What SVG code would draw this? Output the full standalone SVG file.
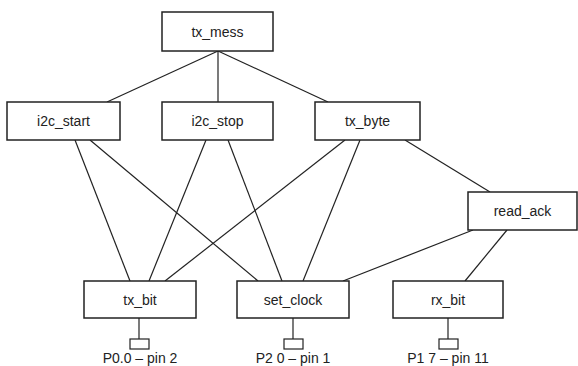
<svg xmlns="http://www.w3.org/2000/svg" width="578" height="366" viewBox="0 0 578 366">
<style>
.box{fill:#fff;stroke:#222;stroke-width:1.5}
.pin{fill:#fff;stroke:#222;stroke-width:1.2}
.ln{stroke:#222;stroke-width:1.2;fill:none}
text{font-family:"Liberation Sans",Arial,sans-serif;font-size:14px;fill:#222;text-anchor:middle;dominant-baseline:central}
</style>
<rect width="578" height="366" fill="#fff"/>
<g id="connectors">
<line class="ln" x1="218" y1="51" x2="107" y2="102"/>
<line class="ln" x1="218" y1="51" x2="218" y2="102"/>
<line class="ln" x1="218" y1="51" x2="328" y2="102"/>
<line class="ln" x1="75" y1="140" x2="130" y2="281"/>
<line class="ln" x1="90" y1="140" x2="258" y2="281"/>
<line class="ln" x1="206" y1="140" x2="149" y2="281"/>
<line class="ln" x1="228" y1="140" x2="282" y2="281"/>
<line class="ln" x1="345" y1="140" x2="165" y2="281"/>
<line class="ln" x1="360" y1="140" x2="303" y2="281"/>
<line class="ln" x1="405" y1="140" x2="490" y2="192"/>
<line class="ln" x1="473" y1="230" x2="343" y2="281"/>
<line class="ln" x1="507" y1="230" x2="465" y2="281"/>
<line class="ln" x1="139" y1="318" x2="139" y2="339"/>
<line class="ln" x1="293" y1="318" x2="293" y2="339"/>
<line class="ln" x1="448" y1="318" x2="448" y2="339"/>
</g>
<g id="tx_mess"><rect class="box" x="162" y="12" width="111" height="39"/><text x="217.5" y="31.5">tx_mess</text></g>
<g id="i2c_start"><rect class="box" x="7" y="102" width="113" height="38"/><text x="63.5" y="121">i2c_start</text></g>
<g id="i2c_stop"><rect class="box" x="162" y="102" width="111" height="38"/><text x="217.5" y="121">i2c_stop</text></g>
<g id="tx_byte"><rect class="box" x="315" y="102" width="105" height="38"/><text x="367.5" y="121">tx_byte</text></g>
<g id="read_ack"><rect class="box" x="468" y="192" width="109" height="38"/><text x="522.5" y="211">read_ack</text></g>
<g id="tx_bit"><rect class="box" x="84" y="281" width="112" height="37"/><text x="140" y="299.5">tx_bit</text></g>
<g id="set_clock"><rect class="box" x="237" y="281" width="112" height="37"/><text x="293" y="299.5">set_clock</text></g>
<g id="rx_bit"><rect class="box" x="393" y="281" width="110" height="37"/><text x="448" y="299.5">rx_bit</text></g>
<g id="pin_tx_bit"><rect class="pin" x="130" y="339" width="19" height="10"/><text x="140" y="358">P0.0 – pin 2</text></g>
<g id="pin_set_clock"><rect class="pin" x="284" y="339" width="19" height="10"/><text x="293" y="358">P2 0 – pin 1</text></g>
<g id="pin_rx_bit"><rect class="pin" x="439" y="339" width="19" height="10"/><text x="448" y="358">P1 7 – pin 11</text></g>
</svg>
